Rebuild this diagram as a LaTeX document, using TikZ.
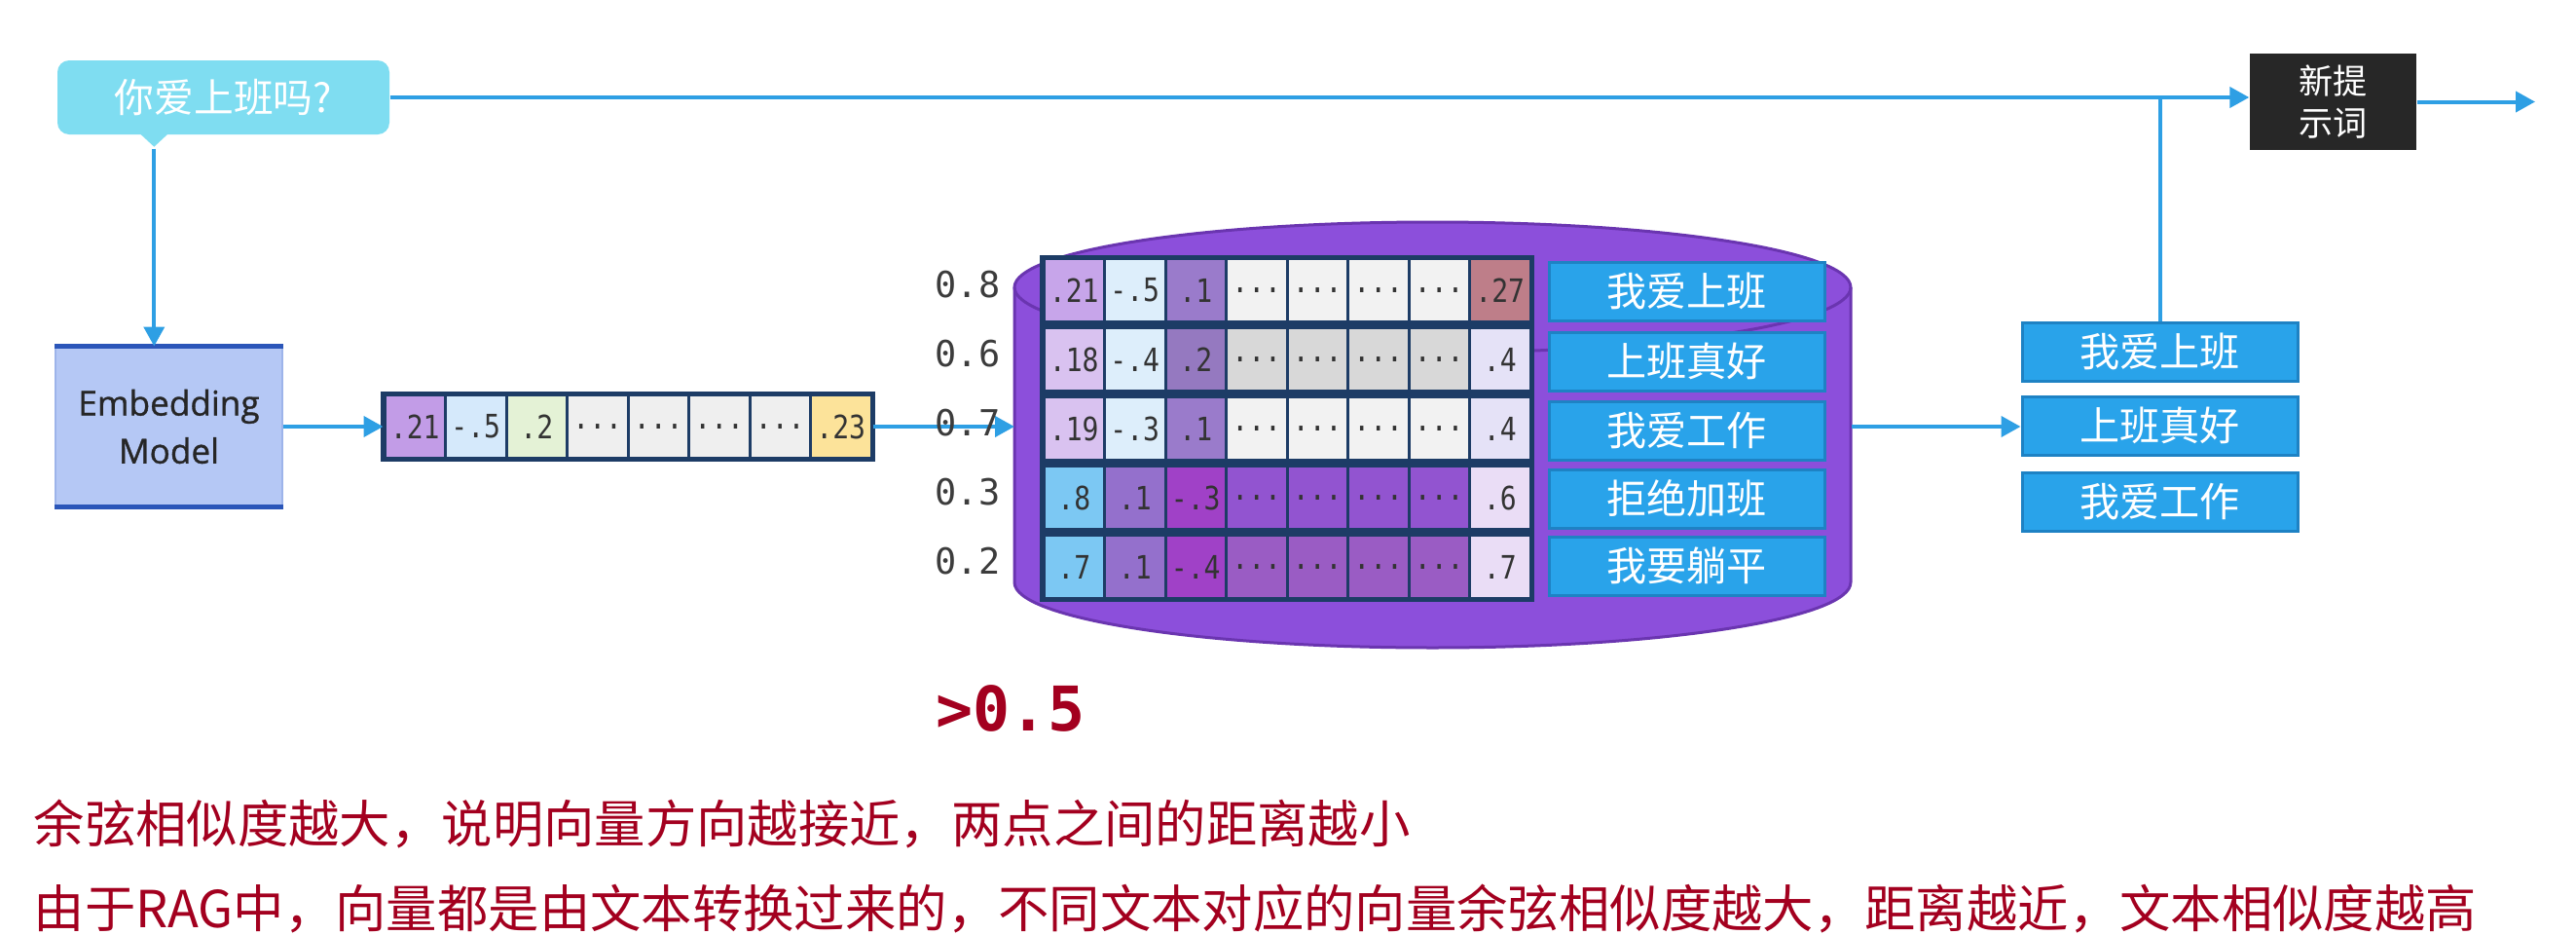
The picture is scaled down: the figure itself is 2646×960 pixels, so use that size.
\documentclass[tikz,border=0pt]{standalone}
\usepackage{fontspec}
\setmainfont{Noto Sans CJK SC}
\newfontfamily\monofont{DejaVu Sans Mono}
\newfontfamily\cellfont[FakeStretch=0.85]{DejaVu Sans Mono}
\newfontfamily\uifont[FakeBold=0.9]{Open Sans}
\usetikzlibrary{arrows.meta,positioning,calc}
\definecolor{arrblue}{HTML}{2E9FE4}
\definecolor{qfill}{HTML}{7FDDF1}
\definecolor{embfill}{HTML}{B5C8F5}
\definecolor{embedge}{HTML}{2B56B9}
\definecolor{embside}{HTML}{9DB4EA}
\definecolor{dbfill}{HTML}{8C4FDB}
\definecolor{dbline}{HTML}{6A35B0}
\definecolor{tagblue}{HTML}{29A3EA}
\definecolor{tagline}{HTML}{1E82C4}
\definecolor{npfill}{HTML}{272727}
\definecolor{cellline}{HTML}{1D3C66}
\definecolor{notered}{HTML}{A3001F}
\definecolor{simgray}{HTML}{3C3C3C}
% cell colours
\definecolor{qa}{HTML}{C29CE7}
\definecolor{qb}{HTML}{D5E9FB}
\definecolor{qc}{HTML}{E4F2D6}
\definecolor{qd}{HTML}{EFEFEF}
\definecolor{qe}{HTML}{FCE39A}
\definecolor{ca}{HTML}{C7A5EA}
\definecolor{cb}{HTML}{D9C2F0}
\definecolor{cblue}{HTML}{DDEEFB}
\definecolor{cm}{HTML}{9A7BCB}
\definecolor{cmg}{HTML}{9579C0}
\definecolor{clg}{HTML}{F2F2F2}
\definecolor{cdg}{HTML}{D8D8D8}
\definecolor{crose}{HTML}{BE7E89}
\definecolor{clav}{HTML}{E5E2F7}
\definecolor{csky}{HTML}{7CC8F3}
\definecolor{cpur}{HTML}{9470CC}
\definecolor{cmag}{HTML}{A041C7}
\definecolor{cdp}{HTML}{9254D0}
\definecolor{cdq}{HTML}{9A5CC4}
\definecolor{cpale}{HTML}{EADDF6}
\newcommand\dd{...}

\begin{document}
\begin{tikzpicture}[x=0.1mm,y=-0.1mm,
  arr/.style={-{Triangle[length=2mm,width=2.1mm]},draw=arrblue,line width=0.4mm},
  wire/.style={draw=arrblue,line width=0.4mm},
  cell/.style={draw=cellline,line width=0.3mm,minimum width=6.25mm,minimum height=6.5mm,
               inner sep=0pt,text=black!80,font=\cellfont\fontsize{9.4}{9.4}\selectfont},
  frame/.style={draw=cellline,line width=0.45mm},
  tag/.style={fill=tagblue,draw=tagline,line width=0.3mm,minimum width=28.3mm,
              minimum height=6mm,inner sep=0pt,text=white,font=\fontsize{11.7}{12}\selectfont},
  sim/.style={text=simgray,font=\monofont\fontsize{10.5}{10.5}\selectfont},
  note/.style={anchor=west,inner sep=0pt,text=notered,font=\fontsize{14.9}{18}\selectfont}]
  \useasboundingbox (0,0) rectangle (2646,960);
  \fill[white] (0,0) rectangle (2646,960);

  % question and embedding
  \node[fill=qfill,rounded corners=1.2mm,minimum width=34.1mm,minimum height=7.6mm,
        text=white,font=\fontsize{11.6}{12}\selectfont] (q) at (229.5,100) {你爱上班吗?};
  \fill[qfill] ($(q.south west)+(86,-1)$) -- ++(28,0) -- ++(-14,13) -- cycle;
  \coordinate (qtip) at ($(q.south west)+(100,14)$);
  \node[fill=embfill,draw=embside,line width=0.2mm,minimum width=23.3mm,minimum height=16.3mm,
        align=center,text=black!85,font=\uifont\fontsize{10}{14}\selectfont] (emb) at (173.5,438) {Embedding\\Model};
  \draw[embedge,line width=0.55mm] (emb.north west) -- (emb.north east);
  \draw[embedge,line width=0.55mm] (emb.south west) -- (emb.south east);
  \draw[arr] (qtip) -- (qtip |- emb.north);

  % query vector
  \foreach \v/\c [count=\i] in {.21/qa,-.5/qb,.2/qc,\dd/qd,\dd/qd,\dd/qd,\dd/qd,.23/qe}
    \node[cell,fill=\c] (v\i) at ({395+62.5*(\i-.5)},438) {\v};
  \draw[frame] (v1.north west) rectangle (v8.south east);
  \draw[arr] (emb.east) -- (v1.west);

  % vector store
  \fill[dbfill] (1042,295) -- (1042,598) arc[start angle=180,end angle=360,x radius=42.95mm,y radius=6.7mm]
    -- (1901,295) arc[start angle=0,end angle=180,x radius=42.95mm,y radius=6.7mm] -- cycle;
  \draw[dbline,line width=0.3mm] (1042,295) -- (1042,598) arc[start angle=180,end angle=360,x radius=42.95mm,y radius=6.7mm]
    -- (1901,295);
  \draw[dbline,line width=0.3mm] (1471.5,295) ellipse[x radius=42.95mm,y radius=6.7mm];
  \coordinate (dbL) at (1042,438);
  \coordinate (dbR) at (1902,438);
  \draw[arr] (v8.east) -- (dbL);

  \foreach \v/\c [count=\i] in {.21/ca,-.5/cblue,.1/cm,\dd/clg,\dd/clg,\dd/clg,\dd/clg,.27/crose}
    \node[cell,fill=\c] (a\i) at ({1072+62.5*(\i-.5)},298) {\v};
  \foreach \v/\c [count=\i] in {.18/cb,-.4/cblue,.2/cmg,\dd/cdg,\dd/cdg,\dd/cdg,\dd/cdg,.4/clav}
    \node[cell,fill=\c] (b\i) at ({1072+62.5*(\i-.5)},369) {\v};
  \foreach \v/\c [count=\i] in {.19/cb,-.3/cblue,.1/cm,\dd/clg,\dd/clg,\dd/clg,\dd/clg,.4/clav}
    \node[cell,fill=\c] (c\i) at ({1072+62.5*(\i-.5)},440) {\v};
  \foreach \v/\c [count=\i] in {.8/csky,.1/cpur,-.3/cmag,\dd/cdp,\dd/cdp,\dd/cdp,\dd/cdp,.6/cpale}
    \node[cell,fill=\c] (d\i) at ({1072+62.5*(\i-.5)},511) {\v};
  \foreach \v/\c [count=\i] in {.7/csky,.1/cpur,-.4/cmag,\dd/cdq,\dd/cdq,\dd/cdq,\dd/cdq,.7/cpale}
    \node[cell,fill=\c] (e\i) at ({1072+62.5*(\i-.5)},582) {\v};
  \foreach \r in {a,b,c,d,e}
    \draw[frame] (\r1.north west) rectangle (\r8.south east);

  \node[sim] (s1) at (994,292) {0.8};
  \node[sim] (s2) at (994,363) {0.6};
  \node[sim] (s3) at (994,434) {0.7};
  \node[sim] (s4) at (994,505) {0.3};
  \node[sim] (s5) at (994,576) {0.2};

  \node[tag] (l1) at (1732.5,299) {我爱上班};
  \node[tag] (l2) at (1732.5,371) {上班真好};
  \node[tag] (l3) at (1732.5,442) {我爱工作};
  \node[tag] (l4) at (1732.5,512) {拒绝加班};
  \node[tag] (l5) at (1732.5,581) {我要躺平};

  % results and new prompt
  \node[tag] (r1) at (2218.5,361) {我爱上班};
  \node[tag,below=1.3mm of r1] (r2) {上班真好};
  \node[tag,below=1.5mm of r2] (r3) {我爱工作};
  \draw[arr] (dbR) -- (dbR -| r2.west);

  \node[fill=npfill,minimum width=17.1mm,minimum height=9.9mm,align=center,text=white,
        font=\fontsize{10}{12}\selectfont] (np) at (2396.5,104.5) {新提\\示词};
  \coordinate (out) at (2604,104.5);
  \draw[arr] (q.east) -- (q.east -| np.west);
  \draw[wire] (r1.north) -- (r1.north |- q.east);
  \draw[arr] (np.east) -- (out);

  % threshold and notes
  \node[text=notered,font=\monofont\bfseries\fontsize{18}{18}\selectfont] (thr) at (1038,727) {>0.5};
  \node[note] (n1) at (34,846) {余弦相似度越大，说明向量方向越接近，两点之间的距离越小};
  \node[note] (n2) at (34,933) {由于RAG中，向量都是由文本转换过来的，不同文本对应的向量余弦相似度越大，距离越近，文本相似度越高};
\end{tikzpicture}
\end{document}
